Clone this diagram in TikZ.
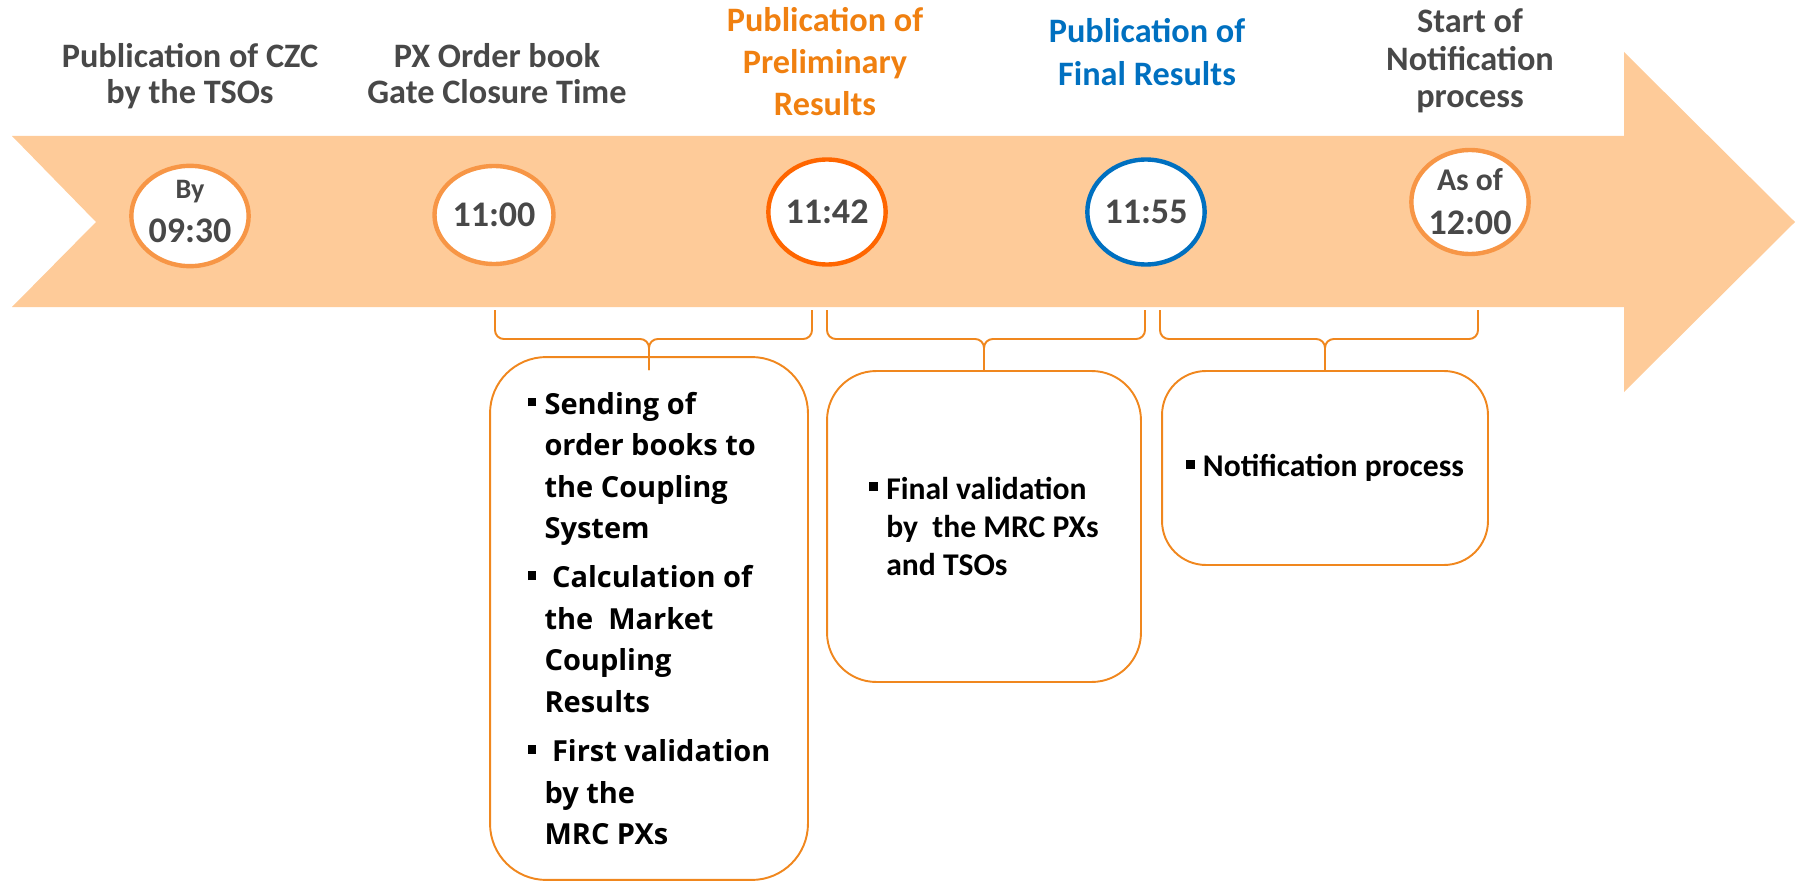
\documentclass[tikz,border=0pt]{standalone}
\usepackage{fontspec}
\setmainfont{Carlito}
\newfontfamily\boxfont{Open Sans}
\usetikzlibrary{shapes.geometric,positioning}

\definecolor{band}{RGB}{254,203,153}
\definecolor{ringlight}{RGB}{247,150,70}
\definecolor{ringdark}{RGB}{255,102,0}
\definecolor{ringblue}{RGB}{0,112,192}
\definecolor{headgray}{RGB}{72,72,72}
\definecolor{headorange}{RGB}{240,128,16}
\definecolor{boxline}{RGB}{240,135,30}

\newcommand\sqbul{\makebox[9.7pt][l]{\raisebox{4.5pt}{\rule{5pt}{5pt}}}}
\newcommand\sqind{\makebox[9.7pt]{}}

\begin{document}
\begin{tikzpicture}[
    x=0.02cm, y=-0.02cm,
    ring/.style ={
        ellipse,
        draw=#1,
        line width=2.5pt,
        fill=white,
        inner sep=0pt,
        align=center,
        text=headgray,
        font=\fontsize{20.5}{25}\selectfont\bfseries
    },
    head/.style ={
        align=center,
        anchor=base,
        inner sep=0pt,
        font=\bfseries
    },
    stage/.style ={
        rectangle,
        draw=boxline,
        line width=1.1pt,
        align=left,
        inner sep=0pt
    },
    brace/.style ={
        draw=boxline,
        line width=1.1pt,
        rounded corners=5pt
    }
    ]
    \useasboundingbox (0,0) rectangle (1800,882);

    % timeline arrow
    \fill[band] (12,136) -- (1624,136) -- (1624,52) -- (1795,222) -- (1624,392)
        -- (1624,307) -- (12,307) -- (96,222) -- cycle;

    % milestones
    \foreach \n/ \pos/ \w/ \h/ \col/ \txt in {
        t1/{(190,216)}/2.34/1.96/ringlight/{{\fontsize{16}{25}\selectfont By}\\09:30\rule[-5pt]{0pt}{5pt}},
        t2/{(494,215)}/2.38/1.96/ringlight/{11:00},
        t3/{(827,212)}/2.20/2.10/ringdark/{11:42},
        t4/{(1146,212)}/2.20/2.10/ringblue/{11:55},
        t5/{(1470,202)}/2.30/2.08/ringlight/{{\fontsize{18}{24.5}\selectfont As of}\\12:00}}
        \node[ring=\col, minimum width=\w cm, minimum height=\h cm] (\n) at \pos {\txt};

    % headings (anchored at the baseline of their last line)
    \node[head, text=headgray, font=\fontsize{19.5}{21}\selectfont\bfseries] (h1) at (190,104)
        {Publication of CZC\\by the TSOs};
    \node[head, text=headgray, font=\fontsize{19.5}{21}\selectfont\bfseries] (h2) at (497,104)
        {PX Order book\\Gate Closure Time};
    \node[head, text=headorange, font=\fontsize{19.5}{24}\selectfont\bfseries] (h3) at (825,116)
        {Publication of\\Preliminary\\Results};
    \node[head, text=ringblue, font=\fontsize{19.5}{24.5}\selectfont\bfseries] (h4) at (1147,86)
        {Publication of\\Final Results};
    \node[head, text=headgray, font=\fontsize{19.5}{21.6}\selectfont\bfseries] (h5) at (1470,108)
        {Start of\\Notification\\process};

    % activity boxes
    \node[stage, rounded corners=32pt, minimum width=6.36cm, minimum height=10.46cm,
          font=\boxfont\bfseries\fontsize{16.5}{23.6}\selectfont] (b1) at (649,618.5)
        {\sqbul Sending of\\ \sqind order books to\\ \sqind the Coupling\\ \sqind System\\[4.5pt]
         \sqbul\ Calculation of\\ \sqind the~ Market\\ \sqind Coupling\\ \sqind Results\\[4.5pt]
         \sqbul\ First validation\\ \sqind by the\\ \sqind MRC PXs};
    \node[stage, rounded corners=28pt, minimum width=6.28cm, minimum height=6.22cm,
          font=\fontsize{18}{21.9}\selectfont\bfseries] (b2) at (984,526.5)
        {\sqbul Final validation\\ \sqind by~ the MRC PXs\\ \sqind and TSOs};
    \node[stage, rounded corners=25pt, minimum width=6.52cm, minimum height=3.88cm,
          font=\fontsize{18}{21.9}\selectfont\bfseries] (b3) at (1325,468)
        {\sqbul Notification process};

    % braces
    \coordinate (brmid) at (0,339);
    \coordinate (brtip) at (0,370);
    \foreach \a/ \b/ \s in {495/812/b1, 827/1145/b2, 1160/1478/b3} {
        \draw[brace] (\a,310) -- (\a,339) -- (\s |- brmid) -- (\s |- brtip);
        \draw[brace] (\b,310) -- (\b,339) -- (\s |- brmid) -- (\s |- brtip);
    }
\end{tikzpicture}
\end{document}
